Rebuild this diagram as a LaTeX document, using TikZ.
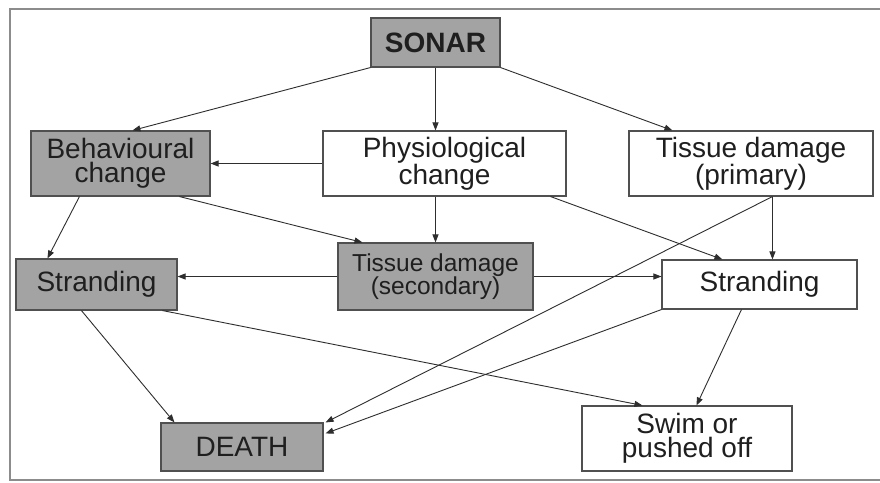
\documentclass[tikz,border=0pt]{standalone}
\usepackage{fontspec}
\setmainfont{Liberation Sans}
\usetikzlibrary{arrows.meta,calc}
\definecolor{boxgray}{HTML}{A3A3A3}
\definecolor{edgegray}{HTML}{505050}
\definecolor{linecol}{HTML}{2E2E2E}
\definecolor{framegray}{HTML}{8C8C8C}
\begin{document}
\begin{tikzpicture}[x=1pt,y=-1pt,
  box/.style={draw=edgegray,line width=1.1pt,inner sep=0pt,align=center,
    text=black!88,font=\fontsize{28}{24.5}\selectfont},
  grayb/.style={box,fill=boxgray},
  whiteb/.style={box,fill=white},
  conn/.style={draw=linecol,line width=0.9pt,-{Triangle[length=8pt,width=6pt]}}]
\useasboundingbox (0,0) rectangle (880,482);
\fill[white] (0,0) rectangle (880,482);
\draw[framegray,line width=2pt] (882,9) -- (10,9) -- (10,480) -- (882,480);
% nodes
\node[grayb,minimum width=129pt,minimum height=49pt,font=\fontsize{28}{24}\selectfont\bfseries] (sonar) at (435.5,42.5) {SONAR};
\node[grayb,minimum width=179pt,minimum height=65pt] (beh) at (120.5,163.5) {Behavioural\\change};
\node[whiteb,minimum width=243pt,minimum height=65pt] (phys) at (444.5,163.5) {Physiological\\change};
\node[whiteb,minimum width=244pt,minimum height=65pt] (prim) at (751,163.5) {Tissue damage\\(primary)};
\node[grayb,minimum width=161pt,minimum height=51pt] (strL) at (96.5,284.5) {Stranding};
\node[grayb,minimum width=195pt,minimum height=67pt,font=\fontsize{24.5}{23}\selectfont] (sec) at (435.5,276.5) {Tissue damage\\(secondary)};
\node[whiteb,minimum width=195pt,minimum height=49pt] (strR) at (759.5,284.5) {Stranding};
\node[grayb,minimum width=162pt,minimum height=48pt] (death) at (242,447) {DEATH};
\node[whiteb,minimum width=210pt,minimum height=65pt] (swim) at (687,438.5) {Swim or\\pushed off};
% connectors
\draw[conn] (sonar.south west) -- ($(beh.north west)+(102,0)$);
\draw[conn] (sonar.south) -- (sonar.south |- phys.north);
\draw[conn] (sonar.south east) -- ($(prim.north west)+(44,0)$);
\draw[conn] (phys.west) -- (beh.east);
\draw[conn] ($(beh.south west)+(49,0)$) -- ($(strL.north west)+(32,0)$);
\draw[conn] ($(beh.south west)+(149,0)$) -- ($(sec.north west)+(25,0)$);
\draw[conn] (sec.north |- phys.south) -- (sec.north);
\draw[conn] ($(phys.south east)+(-16,0)$) -- ($(strR.north west)+(61,0)$);
\coordinate (primout) at ($(prim.south west)+(144,0)$);
\draw[conn] (primout) -- (primout |- strR.north);
\draw[conn] (primout) -- ($(death.north east)+(2,0)$);
\draw[conn] (sec.west) -- (sec.west -| strL.east);
\draw[conn] (sec.east) -- (sec.east -| strR.west);
\draw[conn] ($(strL.south west)+(66,0)$) -- ($(death.north west)+(14,0)$);
\draw[conn] ($(strL.south west)+(147,0)$) -- ($(swim.north west)+(61,0)$);
\draw[conn] (strR.south west) -- ($(death.north east)+(2,11)$);
\draw[conn] ($(strR.south west)+(80,0)$) -- ($(swim.north west)+(115,0)$);
\end{tikzpicture}
\end{document}
